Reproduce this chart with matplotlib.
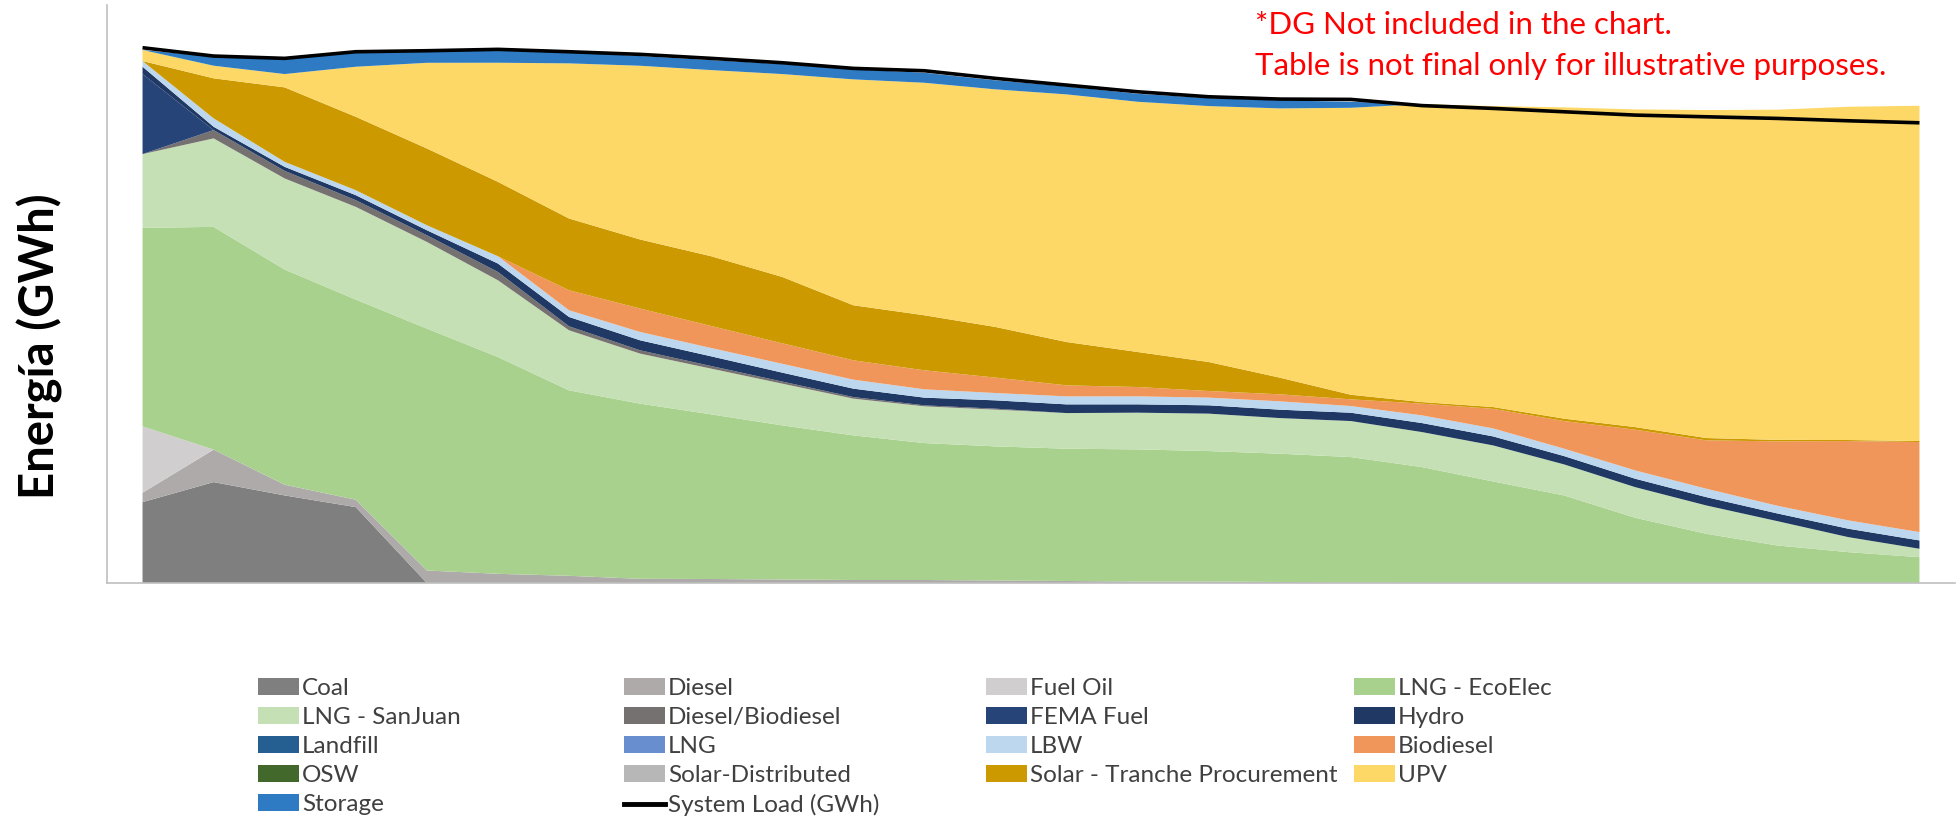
import matplotlib
matplotlib.use("Agg")
import matplotlib.pyplot as plt
from matplotlib.patches import Patch
from matplotlib.lines import Line2D

# Years (no x tick labels are shown in the chart)
years = list(range(2025, 2051))

# Generation by source, GWh
coal = [2586, 3226, 2800, 2426] + [0] * 22
diesel = [301, 1037, 342, 237, 400, 294, 230, 134, 128, 112, 96, 96, 80, 64, 48, 48, 32, 16,
          0, 0, 0, 0, 0, 0, 0, 0]
fuel_oil = [2122] + [0] * 25
lng_ecoelec = [6346, 7123, 6880, 6400, 7734, 6931, 5930, 5600, 5264, 4928, 4624, 4378, 4288,
               4230, 4224, 4170, 4102, 4010, 3706, 3248, 2800, 2086, 1574, 1200, 986, 826]
lng_sanjuan = [2358, 2829, 2912, 2963, 2771, 2454, 1920, 1600, 1462, 1334, 1174, 1174, 1174,
               1139, 1174, 1197, 1139, 1152, 1120, 1152, 992, 979, 906, 778, 480, 269]
diesel_bio = [0, 266, 243, 214, 214, 266, 128, 106, 83, 67, 51, 32, 32] + [0] * 13
fema_fuel = [2560] + [0] * 25
hydro = [234, 106, 128, 160, 160, 269, 298, 320, 310, 285, 269, 246, 266, 278, 266, 266, 269,
         266, 288, 288, 266, 269, 266, 246, 269, 266]
landfill = [0] * 26
lng = [0] * 26
lbw = [182, 269, 160, 160, 160, 234, 214, 266, 266, 282, 288, 266, 234, 256, 256, 246, 266,
       214, 246, 256, 237, 266, 269, 246, 266, 266]
biodiesel = [0, 0, 0, 0, 0, 0, 640, 749, 704, 656, 618, 608, 493, 352, 298, 211, 224, 214, 374,
             624, 883, 1302, 1546, 2058, 2538, 2880]
osw = [0] * 26
solar_dist = [0] * 26
solar_tranche = [0, 1280, 2381, 2346, 2454, 2378, 2294, 2208, 2230, 2122, 1760, 1760, 1619, 1386,
                 1120, 928, 534, 147, 51, 58, 77, 83, 74, 48, 32, 32]
upv = [352, 403, 426, 1600, 2739, 3808, 4960, 5555, 5952, 6486, 7222, 7434, 7597, 7917, 8000,
       8182, 8608, 9174, 9526, 9622, 9952, 10157, 10486, 10557, 10656, 10720]
storage = [0, 288, 470, 448, 352, 406, 371, 310, 320, 320, 320, 320, 288, 256, 256, 256, 256, 192,
           0, 0, 0, 0, 0, 0, 0, 0]
system_load = [17114, 16848, 16774, 16986, 17018, 17062, 16986, 16902, 16774, 16634, 16454, 16378,
               16134, 15920, 15706, 15546, 15472, 15462, 15264, 15174, 15066, 14960, 14906, 14854,
               14778, 14714]

labels = ["Coal", "Diesel", "Fuel Oil", "LNG - EcoElec", "LNG - SanJuan", "Diesel/Biodiesel",
          "FEMA Fuel", "Hydro", "Landfill", "LNG", "LBW", "Biodiesel", "OSW", "Solar-Distributed",
          "Solar - Tranche Procurement", "UPV", "Storage"]
series = [coal, diesel, fuel_oil, lng_ecoelec, lng_sanjuan, diesel_bio, fema_fuel, hydro, landfill,
          lng, lbw, biodiesel, osw, solar_dist, solar_tranche, upv, storage]
colors = ["#7F7F7F", "#AEAAAA", "#D0CECE", "#A9D18E", "#C5E0B4", "#767171", "#264478", "#1F3864",
          "#255E91", "#698ED0", "#BDD7EE", "#F0965A", "#43682B", "#B7B7B7", "#CC9A00", "#FDD866",
          "#2E7BC4"]

W, H = 1957, 817
fig = plt.figure(figsize=(W / 100, H / 100), dpi=100)
ax = fig.add_axes([107 / W, 1 - 583 / H, (1955 - 107) / W, (583 - 5) / H])

ax.stackplot(years, *series, colors=colors, linewidth=0)
ax.plot(years, system_load, color="black", linewidth=2.6, solid_capstyle="butt")

ax.set_xlim(years[0] - 0.5, years[-1] + 0.5)
ax.set_ylim(0, 18480)
ax.set_xticks([])
ax.set_yticks([])
for side in ("top", "right"):
    ax.spines[side].set_visible(False)
for side in ("left", "bottom"):
    ax.spines[side].set_color("#BFBFBF")
    ax.spines[side].set_linewidth(1.2)

fig.text(40 / W, 1 - 346 / H, "Energía (GWh)", rotation=90, ha="center", va="center",
         fontsize=34, fontweight="bold", family="Lato")

fig.text(1255 / W, 1 - 25 / H, "*DG Not included in the chart.", color="red",
         fontsize=22.5, family="Lato", ha="left", va="center")
fig.text(1255 / W, 1 - 66 / H, "Table is not final only for illustrative purposes.", color="red",
         fontsize=22.5, family="Lato", ha="left", va="center")

# Legend laid out row by row in four columns, like the original
handles = [Patch(facecolor=c, edgecolor="none") for c in colors]
handles.append(Line2D([], [], color="black", linewidth=3.5))
names = labels + ["System Load (GWh)"]
col_x = [258, 624, 986, 1354]
for j, x0 in enumerate(col_x):
    idx = list(range(j, len(names), 4))
    fig.legend([handles[i] for i in idx], [names[i] for i in idx],
               loc="upper left", bbox_to_anchor=(x0 / W, 1 - 678 / H),
               frameon=False, borderaxespad=0, borderpad=0,
               prop={"family": "Lato", "size": 17.5}, handlelength=1.7, handleheight=0.65,
               handletextpad=0.12, labelspacing=0.33, labelcolor="#404040")

fig.savefig("out.png", dpi=100)
